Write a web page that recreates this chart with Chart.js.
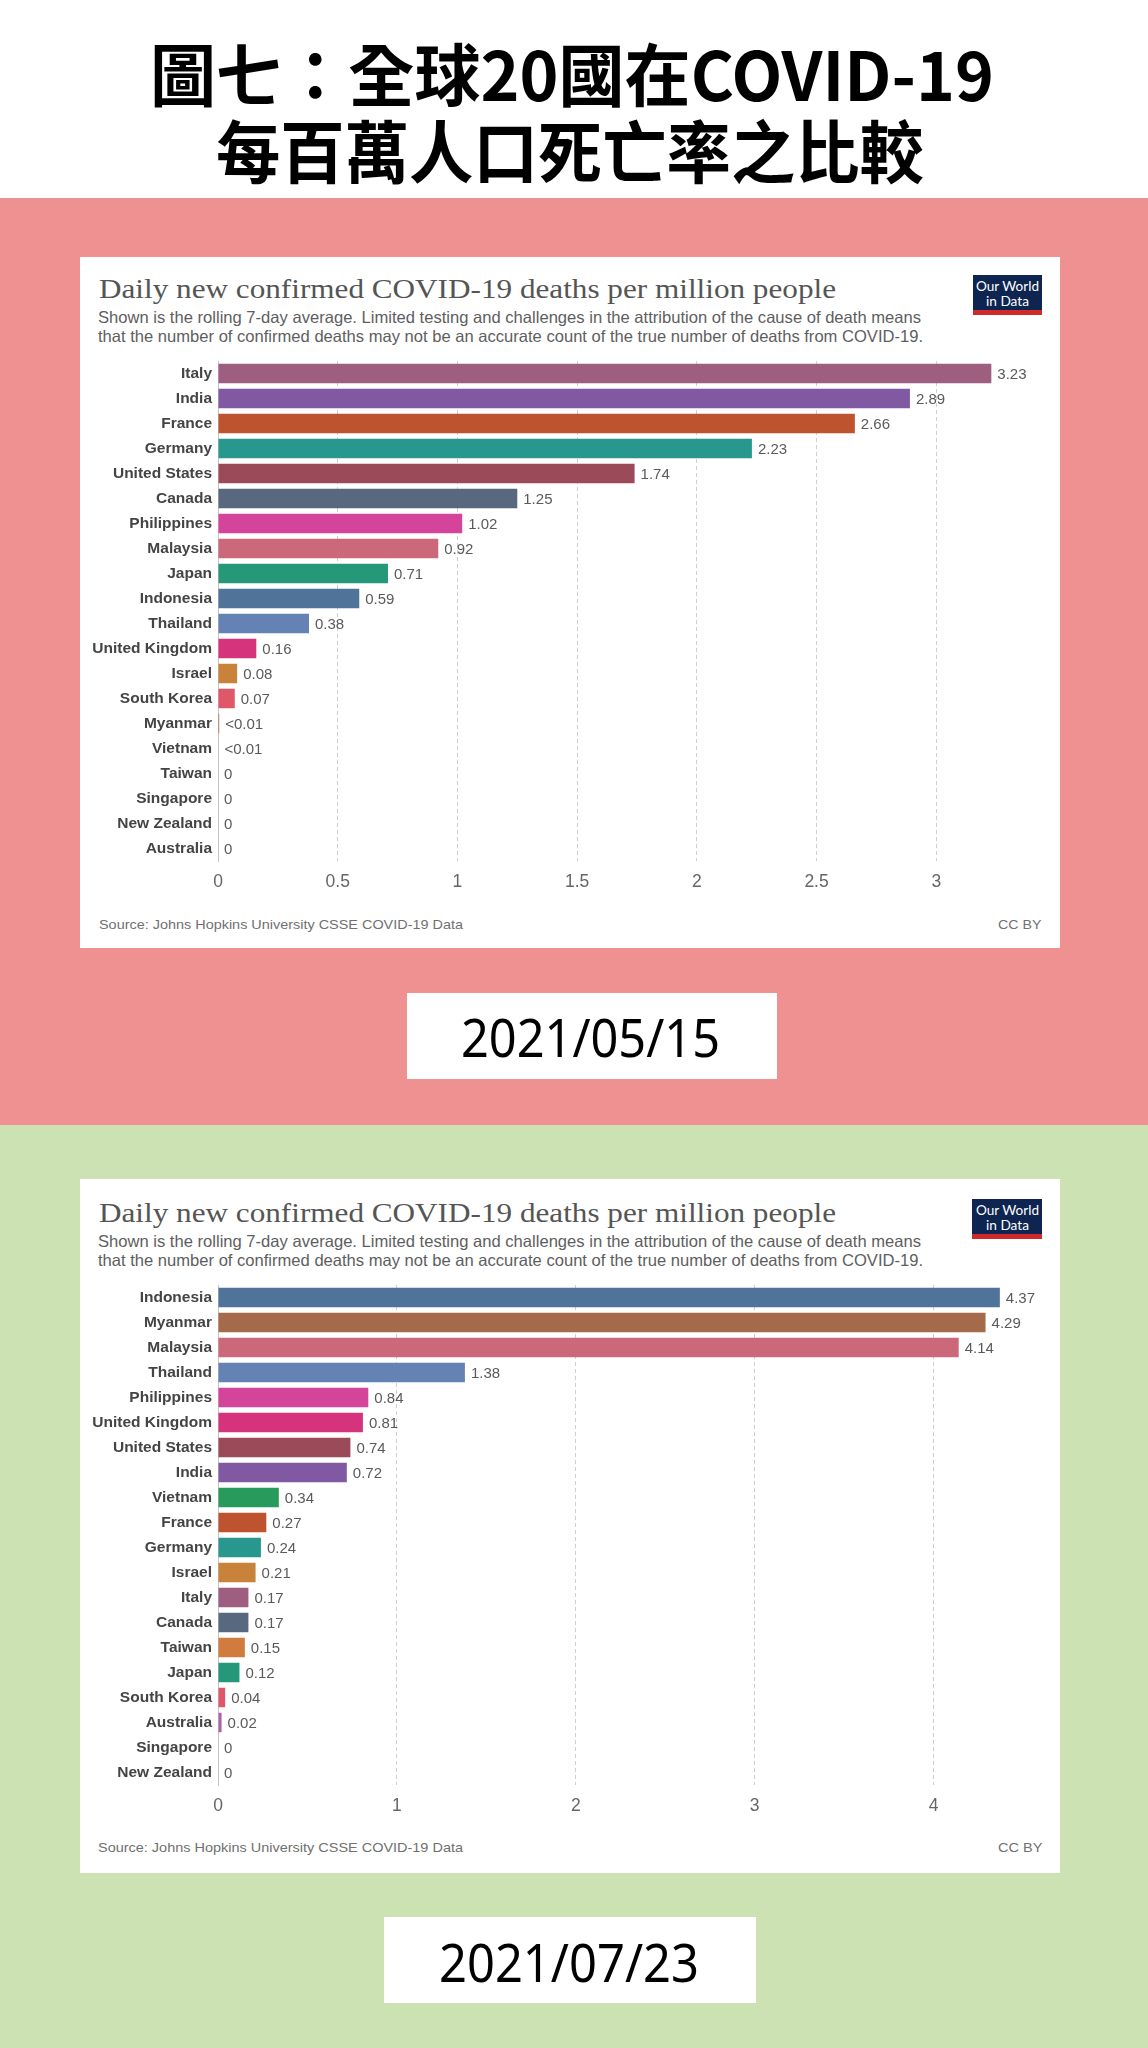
<!DOCTYPE html>
<html><head><meta charset="utf-8">
<script src="https://cdn.jsdelivr.net/npm/chart.js@4.4.1/dist/chart.umd.min.js"></script>
<style>
html,body{margin:0;padding:0;}
body{width:1148px;height:2048px;position:relative;overflow:hidden;background:#fff;font-family:"Liberation Sans",Arial,sans-serif;}
.box{position:absolute;}
.t{position:absolute;white-space:nowrap;transform-origin:0 50%;}
canvas{position:absolute;}
</style></head><body>

<div class="box" style="left:0;top:0;width:1148px;height:198px;background:#fff"></div>
<div class="box" style="left:0;top:198px;width:1148px;height:927px;background:#F09191"></div>
<div class="box" style="left:0;top:1125px;width:1148px;height:923px;background:#CDE2B2"></div>

<div class="t fit" data-x="150" data-cy="72" data-w="844" data-fs="68" style="font-family:'Noto Sans CJK TC';font-weight:700;color:#000">圖七：全球20國在COVID-19</div>
<div class="t fit" data-x="216" data-cy="149" data-w="708" data-fs="68" style="font-family:'Noto Sans CJK TC';font-weight:700;color:#000">每百萬人口死亡率之比較</div>

<!-- card 1 -->
<div class="box" style="left:80px;top:257px;width:980px;height:691px;background:#fff"></div>
<div class="t fit" data-x="99" data-cy="289" data-w="737" data-fs="27" style="font-family:'Liberation Serif',serif;color:#555">Daily new confirmed COVID-19 deaths per million people</div>
<div class="t fit" data-x="98" data-cy="317" data-w="823" data-fs="16.5" style="color:#5e5e5e">Shown is the rolling 7-day average. Limited testing and challenges in the attribution of the cause of death means</div>
<div class="t fit" data-x="98" data-cy="336.5" data-w="825" data-fs="16.5" style="color:#5e5e5e">that the number of confirmed deaths may not be an accurate count of the true number of deaths from COVID-19.</div>
<div class="box" style="left:973px;top:275px;width:69px;height:35px;background:#0d2550"></div>
<div class="box" style="left:973px;top:310px;width:69px;height:5px;background:#cf2a2a"></div>
<div class="t fit" data-x="976" data-cy="286" data-w="63" data-fs="14" style="font-family:Lato;color:#fff">Our World</div>
<div class="t fit" data-x="986" data-cy="300.5" data-w="43" data-fs="14" style="font-family:Lato;color:#fff">in Data</div>
<div class="t fit" data-x="98.5" data-cy="925" data-w="364" data-fs="13.5" style="color:#707070">Source: Johns Hopkins University CSSE COVID-19 Data</div>
<div class="t fit" data-x="998" data-cy="925" data-w="43.5" data-fs="13.5" style="color:#707070">CC BY</div>
<canvas id="c1" width="980" height="545" style="left:80px;top:361px;width:980px;height:545px"></canvas>

<div class="box" style="left:407px;top:993px;width:370px;height:86px;background:#fff"></div>
<div class="t fit" data-x="461" data-cy="1036.5" data-w="259" data-fs="52" style="font-family:'Noto Sans';color:#000">2021/05/15</div>

<!-- card 2 -->
<div class="box" style="left:80px;top:1179px;width:980px;height:694px;background:#fff"></div>
<div class="t fit" data-x="99" data-cy="1213" data-w="737" data-fs="27" style="font-family:'Liberation Serif',serif;color:#555">Daily new confirmed COVID-19 deaths per million people</div>
<div class="t fit" data-x="98" data-cy="1241.5" data-w="823" data-fs="16.5" style="color:#5e5e5e">Shown is the rolling 7-day average. Limited testing and challenges in the attribution of the cause of death means</div>
<div class="t fit" data-x="98" data-cy="1260" data-w="825" data-fs="16.5" style="color:#5e5e5e">that the number of confirmed deaths may not be an accurate count of the true number of deaths from COVID-19.</div>
<div class="box" style="left:972px;top:1199px;width:70px;height:35px;background:#0d2550"></div>
<div class="box" style="left:972px;top:1234px;width:70px;height:5px;background:#cf2a2a"></div>
<div class="t fit" data-x="975.5" data-cy="1210" data-w="63" data-fs="14" style="font-family:Lato;color:#fff">Our World</div>
<div class="t fit" data-x="985.5" data-cy="1224.5" data-w="43" data-fs="14" style="font-family:Lato;color:#fff">in Data</div>
<div class="t fit" data-x="98" data-cy="1848" data-w="365" data-fs="13.5" style="color:#707070">Source: Johns Hopkins University CSSE COVID-19 Data</div>
<div class="t fit" data-x="997.5" data-cy="1848" data-w="44.5" data-fs="13.5" style="color:#707070">CC BY</div>
<canvas id="c2" width="980" height="545" style="left:80px;top:1285px;width:980px;height:545px"></canvas>

<div class="box" style="left:384px;top:1917px;width:372px;height:86px;background:#fff"></div>
<div class="t fit" data-x="439" data-cy="1961.5" data-w="260" data-fs="52" style="font-family:'Noto Sans';color:#000">2021/07/23</div>

<script>
// ---------- data ----------
const categories1 = ["Italy","India","France","Germany","United States","Canada","Philippines","Malaysia","Japan","Indonesia","Thailand","United Kingdom","Israel","South Korea","Myanmar","Vietnam","Taiwan","Singapore","New Zealand","Australia"];
const values1 = [3.23,2.89,2.66,2.23,1.74,1.25,1.02,0.92,0.71,0.59,0.38,0.16,0.08,0.07,0.005,0.002,0,0,0,0];
const ticks1 = [0,0.5,1,1.5,2,2.5,3];

const categories2 = ["Indonesia","Myanmar","Malaysia","Thailand","Philippines","United Kingdom","United States","India","Vietnam","France","Germany","Israel","Italy","Canada","Taiwan","Japan","South Korea","Australia","Singapore","New Zealand"];
const values2 = [4.37,4.29,4.14,1.38,0.84,0.81,0.74,0.72,0.34,0.27,0.24,0.21,0.17,0.17,0.15,0.12,0.04,0.02,0,0];
const ticks2 = [0,1,2,3,4];

// ---------- styles ----------
const countryColors = {
  "Italy":"#9E5E80","India":"#8158A2","France":"#BE532F","Germany":"#28988F",
  "United States":"#9B4A59","Canada":"#58687F","Philippines":"#D5449B","Malaysia":"#CB6879",
  "Japan":"#26987A","Indonesia":"#50739A","Thailand":"#6482B3","United Kingdom":"#D5337B",
  "Israel":"#C8823A","South Korea":"#E0576A","Myanmar":"#A56A4A","Vietnam":"#279A5C",
  "Taiwan":"#D27B3E","Singapore":"#7A5FA0","New Zealand":"#5B7F9A","Australia":"#B062A8"
};

// fit html texts
document.querySelectorAll('.fit').forEach(el=>{
  const fs=parseFloat(el.dataset.fs);
  el.style.fontSize=fs+'px';
  el.style.lineHeight=fs+'px';
  el.style.left=el.dataset.x+'px';
  el.style.top=(parseFloat(el.dataset.cy)-fs/2)+'px';
  const w=el.getBoundingClientRect().width;
  el.style.transform='scaleX('+(parseFloat(el.dataset.w)/w)+')';
});

function fmt(v){ if(v===0) return "0"; if(v<0.01) return "<0.01"; return v.toFixed(2); }

const valueLabels = {
  id:'valueLabels',
  afterDatasetsDraw(chart){
    const ctx=chart.ctx;
    const meta=chart.getDatasetMeta(0);
    const data=chart.data.datasets[0].data;
    ctx.save();
    ctx.font='15px "Liberation Sans", Arial, sans-serif';
    ctx.fillStyle='#5a5a5a';
    ctx.textBaseline='middle';
    ctx.textAlign='left';
    meta.data.forEach((bar,i)=>{
      ctx.fillText(fmt(data[i]), bar.x+6, bar.y+1);
    });
    ctx.restore();
  }
};

function noPad(s){ s.paddingTop=0; s.paddingBottom=0; s.paddingLeft=0; s.paddingRight=0; }

function makeChart(id, cats, vals, ticks, max, padRight){
  return new Chart(document.getElementById(id), {
    type:'bar',
    data:{labels:cats, datasets:[{data:vals, backgroundColor:cats.map(c=>countryColors[c]), borderWidth:0, barPercentage:0.78, categoryPercentage:1}]},
    options:{
      indexAxis:'y', responsive:false, animation:false, devicePixelRatio:1,
      layout:{padding:{left:0,right:padRight,top:0,bottom:0}},
      plugins:{legend:{display:false}, tooltip:{enabled:false}},
      scales:{
        x:{
          type:'linear', min:0, max:max,
          afterBuildTicks:s=>{ s.ticks = ticks.map(v=>({value:v})); },
          afterFit:s=>{ s.height=45; noPad(s); },
          ticks:{ font:{family:'"Liberation Sans", Arial, sans-serif', size:17.5}, color:'#666', padding:11, callback:v=>String(v), maxRotation:0, autoSkip:false },
          grid:{ drawTicks:false, color:c=> (c.tick && c.tick.value===0) ? 'rgba(0,0,0,0)' : '#cfcfcf', lineWidth:1 },
          border:{ display:false, dash:[4,3] }
        },
        y:{
          afterFit:s=>{ s.width=138; noPad(s); },
          ticks:{ font:{family:'"Liberation Sans", Arial, sans-serif', size:15.5, weight:'bold'}, color:'#444', padding:6, autoSkip:false },
          grid:{ display:false, drawTicks:false },
          border:{ display:true, color:'#c4c4c4', width:1 }
        }
      }
    },
    plugins:[valueLabels]
  });
}

makeChart('c1', categories1, values1, ticks1, 3.45, 16);
makeChart('c2', categories2, values2, ticks2, 4.6, 19);
</script>
</body></html>
